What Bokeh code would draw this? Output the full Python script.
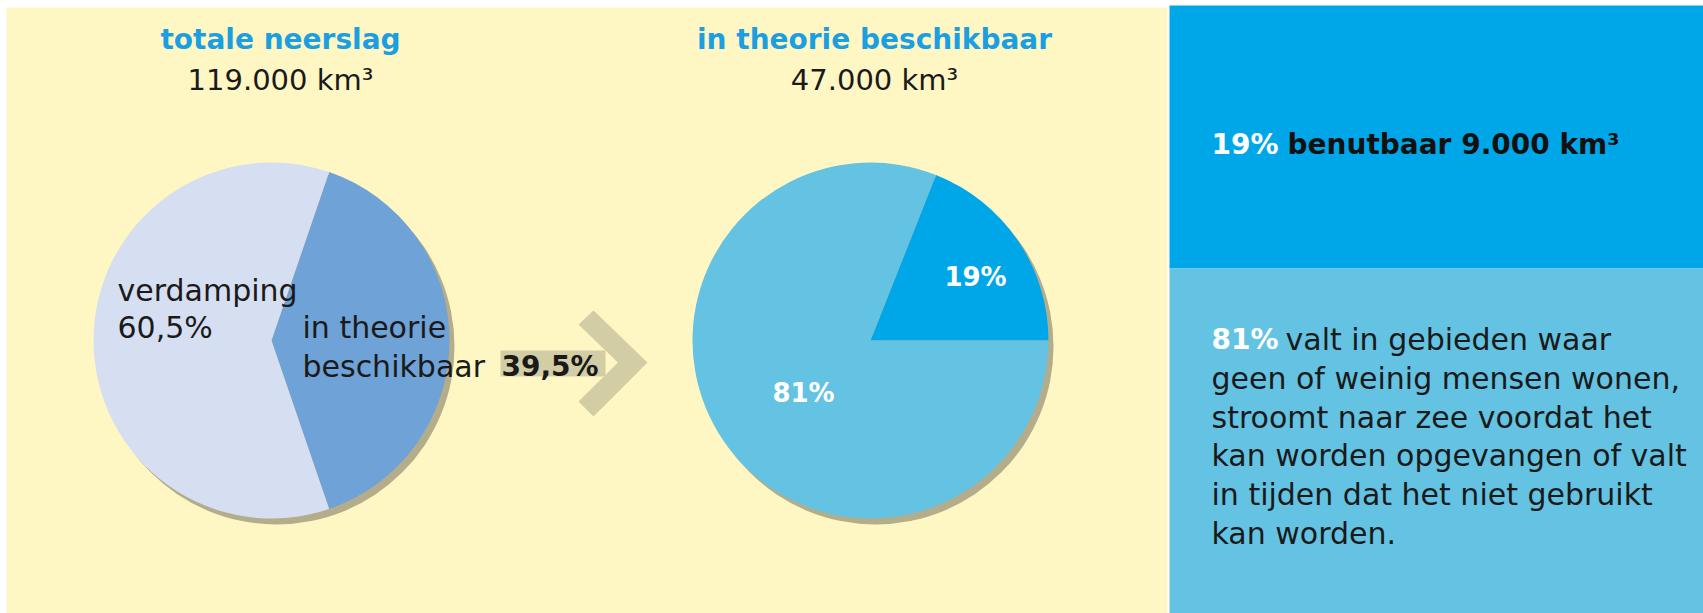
import numpy as np
from bokeh.plotting import figure
from bokeh.models import ColumnDataSource, Range1d
from bokeh.core.properties import value
from bokeh.embed import file_html
from bokeh.resources import INLINE

# ---------------- data ----------------
panel_titles = ["totale neerslag", "in theorie beschikbaar"]
panel_volumes = ["119.000 km³", "47.000 km³"]

pie1_labels = ["in theorie beschikbaar", "verdamping"]
pie1_values = [39.5, 60.5]

pie2_labels = ["benutbaar", "niet benutbaar"]
pie2_values = [19.0, 81.0]

usable_volume = "9.000 km³"
rest_lines = [
    "valt in gebieden waar",
    "geen of weinig mensen wonen,",
    "stroomt naar zee voordat het",
    "kan worden opgevangen of valt",
    "in tijden dat het niet gebruikt",
    "kan worden.",
]

# ---------------- styling ----------------
YELLOW = "#fef7c4"
TITLE_BLUE = "#1b9fe0"
DARK = "#1a1a1a"
P1_COLORS = ["#6fa2d6", "#d6dff2"]
P2_COLORS = ["#00a7e8", "#64c3e2"]
SHADOW = "#b3ad8b"
ARROW = "#d3cda6"
FONT = value("DejaVu Sans")

W, H = 1703, 613
TEXT_SHIFT = 11
def Y(v):
    return H - v

def pct(v):
    s = f"{v:.1f}" if v % 1 else f"{int(v)}"
    return s.replace(".", ",") + "%"

p = figure(width=W, height=H, output_backend="svg", toolbar_location=None,
           x_range=Range1d(0, W), y_range=Range1d(0, H),
           min_border=0, background_fill_color="white", border_fill_color="white")
p.outline_line_color = None
p.axis.visible = False
p.grid.visible = False

# background panels
p.quad(left=[6], right=[1167], bottom=[Y(613)], top=[Y(7)], fill_color=YELLOW, line_color=None)
p.quad(left=[1169], right=[1703], bottom=[Y(268)], top=[Y(5)], fill_color=P2_COLORS[0], line_color=None)
p.quad(left=[1169], right=[1703], bottom=[Y(613)], top=[Y(268)], fill_color=P2_COLORS[1], line_color=None)

# arrow
p.quad(left=[500], right=[605], bottom=[Y(376)], top=[Y(350)], fill_color=ARROW, line_color=None)
ax = [578, 593, 647, 593, 578, 617.5]
ay = [324, 310, 362, 416, 401, 362]
p.patch(ax, [Y(v) for v in ay], fill_color=ARROW, line_color=None)

R = 178
def pie(cx, cy, vals, colors, start):
    frac = np.array(vals) / np.sum(vals)
    ends = start + np.cumsum(frac) * 2 * np.pi
    starts = np.concatenate([[start], ends[:-1]])
    # shadow
    p.circle(x=[cx + 5], y=[Y(cy) - 6], radius=R, fill_color=SHADOW, line_color=None)
    src = ColumnDataSource(dict(x=[cx] * len(vals), y=[Y(cy)] * len(vals),
                                s=starts, e=ends, c=colors))
    p.wedge(x="x", y="y", radius=R, start_angle="s", end_angle="e",
            fill_color="c", line_color=None, source=src)

frac1 = pie1_values[0] / sum(pie1_values)
pie(271, 340, pie1_values, P1_COLORS, -np.pi * frac1)
pie(870, 340, pie2_values, P2_COLORS, 0.0)

def txt(x, y, t, size, color=DARK, bold=False, align="left"):
    p.text(x=[x], y=[Y(y - TEXT_SHIFT)], text=[t], text_font=FONT,
           text_font_size=value(f"{size}px"),
           text_font_style="bold" if bold else "normal", text_color=color,
           text_align=align, text_baseline="alphabetic")

# titles
for cx, t, v in zip([280, 874], panel_titles, panel_volumes):
    txt(cx, 50, t, 28, TITLE_BLUE, True, "center")
    txt(cx, 90, v, 29, DARK, False, "center")

# pie 1 labels
txt(117, 301, pie1_labels[1], 30)
txt(117, 338, pct(pie1_values[1]), 30)
txt(302, 338, "in theorie", 30)
txt(302, 377, "beschikbaar", 30)
txt(501, 377, pct(pie1_values[0]), 28, DARK, True)

# pie 2 labels
txt(975, 287, pct(pie2_values[0]), 26, "white", True, "center")
txt(803, 403, pct(pie2_values[1]), 26, "white", True, "center")

# right panel
txt(1211, 155, pct(pie2_values[0]), 28, "white", True)
txt(1287, 155, f"{pie2_labels[0]} {usable_volume}", 28, "#111111", True)

txt(1211, 350, pct(pie2_values[1]), 28, "white", True)
txt(1285, 350, rest_lines[0], 30)
for i, line in enumerate(rest_lines[1:], start=1):
    txt(1211, 350 + 38.8 * i, line, 30)

open("out.html", "w").write(file_html(p, INLINE))
